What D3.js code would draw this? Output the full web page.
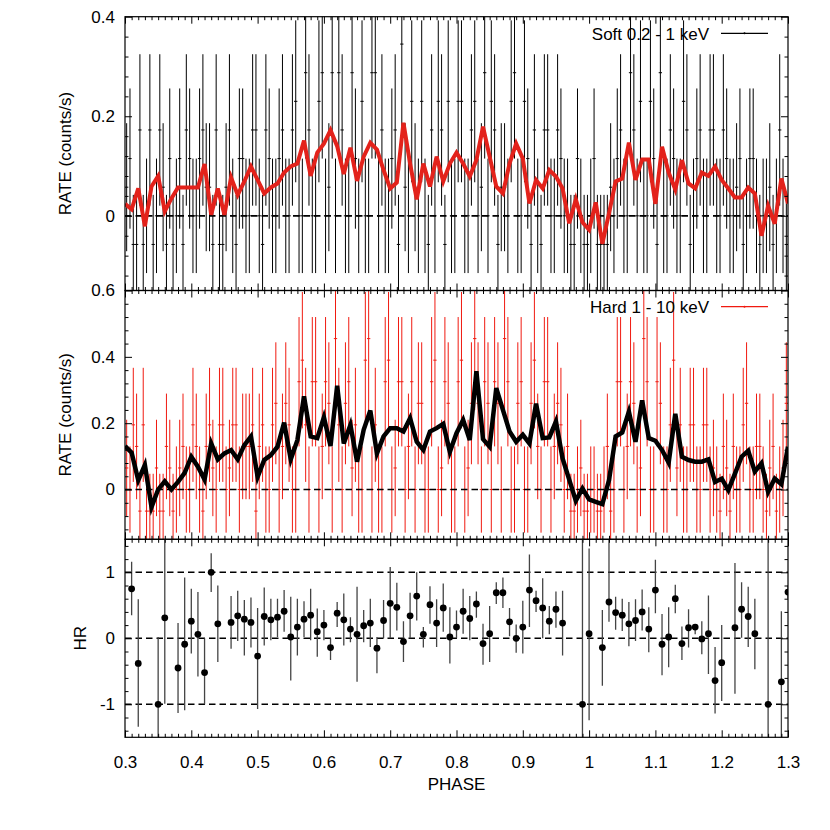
<!DOCTYPE html>
<html><head><meta charset="utf-8">
<script src="https://cdn.jsdelivr.net/npm/d3@7"></script>
<style>body{margin:0;background:#fff} text{font-family:"Liberation Sans",Arial,sans-serif;fill:#000}</style>
</head><body>
<svg id="c" width="830" height="830"></svg>
<script>
// ---------------- DATA ----------------
// phase grid of the binned curves (0.30 ... 1.30, step 0.01)
const linePhaseStart = 0.30, linePhaseStep = 0.01, lineCount = 101;
// binned soft rate (red curve, counts/s)
const softLine = [0.024,0.013,0.055,-0.021,0.059,0.080,0.009,0.035,0.057,0.057,
 0.057,0.057,0.104,0.002,0.055,0.002,0.077,0.042,0.069,0.099,
 0.072,0.045,0.057,0.065,0.087,0.099,0.105,0.151,0.080,0.127,
 0.145,0.172,0.140,0.084,0.137,0.070,0.119,0.147,0.133,0.092,
 0.055,0.067,0.187,0.105,0.033,0.105,0.059,0.119,0.069,0.105,
 0.127,0.105,0.079,0.112,0.179,0.119,0.059,0.045,0.105,0.145,
 0.115,0.025,0.072,0.055,0.092,0.079,0.055,-0.015,0.033,-0.013,
 -0.028,0.027,-0.056,0.005,0.069,0.075,0.147,0.072,0.113,0.113,
 0.024,0.139,0.087,0.053,0.112,0.065,0.055,0.087,0.080,0.099,
 0.072,0.055,0.037,0.037,0.057,0.045,-0.040,0.020,-0.016,0.075,0.025];
// binned hard rate (black curve, counts/s)
const hardLine = [0.131,0.111,0.028,0.074,-0.053,0.000,0.025,0.000,0.023,0.050,
 0.099,0.069,0.030,0.139,0.091,0.109,0.119,0.091,0.134,0.160,
 0.038,0.089,0.104,0.129,0.202,0.091,0.149,0.281,0.160,0.155,
 0.218,0.131,0.313,0.139,0.195,0.084,0.180,0.238,0.109,0.160,
 0.185,0.185,0.175,0.215,0.144,0.119,0.175,0.185,0.198,0.114,
 0.170,0.210,0.149,0.357,0.152,0.129,0.306,0.240,0.175,0.144,
 0.165,0.139,0.259,0.155,0.157,0.205,0.094,0.030,-0.034,0.003,
 -0.030,-0.037,-0.044,0.028,0.160,0.172,0.235,0.144,0.269,0.155,
 0.147,0.119,0.081,0.228,0.099,0.089,0.084,0.084,0.091,0.023,
 0.033,-0.002,0.048,0.099,0.117,0.054,0.079,-0.007,0.033,0.016,0.129];
// fine bins (two per curve point, half-width 0.0025): net counts per bin
const softCounts = [0,1, 2,-1, -1,3, -1,0, 3,-1, 0,3, 1,-1, 2,-1, 0,2, -1,3,
 2,0, 0,2, 3,1, 1,-1, 3,-1, -1,1, 3,0, -1,2, 2,0, 0,3,
 3,0, -1,3, 2,0, 0,2, 3,0, 0,3, 4,0, 0,5, 3,0, 0,4,
 5,0, 1,5, 0,5, 3,0, 0,5, 2,0, 4,0, 0,5, 5,0, 3,0,
 0,2, 3,-1, 6,1, 0,4, 1,0, 4,0, -1,3, 0,4, 3,-1, 4,0,
 0,4, 4,0, 0,3, 4,0, 1,5, 0,4, 3,-1, 1,1, 0,4, 5,0,
 0,4, 2,-1, 3,0, -1,3, 3,0, 0,3, 2,0, 0,-1, -1,2, 0,-1,
 -1,0, 2,-1, -1,-1, -1,1, 0,2, 3,0, 0,5, 3,0, 4,0, 0,4,
 2,-1, 5,0, 0,3, 2,0, 0,4, 3,-1, 0,2, 3,0, 0,3, 3,0,
 0,3, 2,0, 0,1, 2,-1, 0,2, 2,0, -1,0, 0,1, -1,0, 3,0, -1,2];
const hardCounts = [3,1, 0,3, 2,-1, 3,-1, -1,-1, 1,-1, -1,2, 1,-1, 0,1, 2,0,
 0,3, 2,0, -1,2, 3,1, 0,3, 3,0, 1,3, 3,0, 2,2, 2,3,
 -1,2, 3,0, 0,3, 4,0, 2,4, 3,0, 0,5, 6,3, 0,5, 5,0,
 2,5, 4,0, 7,3, 0,4, 5,1, 3,0, 0,6, 7,0, 3,0, 0,5,
 6,0, 1,5, 5,0, 2,5, 0,4, 4,0, 0,5, 6,0, 1,5, 4,0,
 0,5, 6,0, 1,4, 7,4, 0,5, 4,0, 5,4, 0,7, 5,0, 0,4,
 5,0, 0,4, 6,2, 0,5, 5,0, 2,4, 3,0, 2,-1, -1,0, 1,-1,
 -1,0, 0,-1, -1,0, 2,-1, 0,5, 5,0, 2,5, 4,0, 1,7, 5,0,
 0,5, 4,0, 0,3, 6,1, 3,0, 0,3, 3,0, 0,3, 3,0, 1,0,
 -1,2, 1,-1, 2,0, 0,3, 4,0, 0,2, 2,0, -1,1, 2,-1, 0,1, 4,0];
const softUnit = 0.0575, hardUnit = 0.065, bkgCounts = 4;
// hardness ratio
const hrPhase = [0.31,0.32,0.35,0.36,0.38,0.39,0.40,0.41,0.42,0.43,0.44,0.46,0.47,0.48,0.49,0.50,
 0.51,0.52,0.53,0.54,0.55,0.56,0.57,0.58,0.59,0.60,0.61,0.62,0.63,0.64,0.65,0.66,0.67,0.68,0.69,
 0.70,0.71,0.72,0.73,0.74,0.75,0.76,0.77,0.78,0.79,0.80,0.81,0.82,0.83,0.84,0.85,0.86,0.87,0.88,
 0.89,0.90,0.91,0.92,0.93,0.94,0.95,0.96,0.99,1.00,1.02,1.03,1.04,1.05,1.06,1.07,1.08,1.09,1.10,
 1.11,1.12,1.13,1.14,1.15,1.16,1.17,1.18,1.19,1.20,1.22,1.23,1.24,1.25,1.27,1.29,1.30];
const hrValue = [0.75,-0.38,-1.00,0.31,-0.45,-0.09,0.26,0.06,-0.52,1.00,0.22,0.24,0.34,0.29,0.24,-0.27,
 0.33,0.28,0.32,0.41,0.02,0.17,0.29,0.35,0.10,0.20,-0.14,0.38,0.28,0.14,0.06,0.19,0.23,-0.15,0.27,
 0.53,0.47,-0.05,0.34,0.64,0.06,0.51,0.23,0.46,0.02,0.17,0.41,0.30,0.52,-0.08,0.07,0.69,0.69,0.25,
 0.00,0.17,0.73,0.57,0.46,0.26,0.44,0.23,-1.00,0.07,-0.14,0.55,0.39,0.35,0.22,0.27,0.40,0.14,0.73,
 -0.09,0.02,0.60,-0.08,0.16,0.17,-0.01,0.07,-0.64,-0.37,0.16,0.44,0.33,0.07,-1.00,-0.66,0.70];
const hrLow = [0.35,-1.34,-1.60,-0.99,-1.13,-1.09,-0.23,-0.58,-1.00,0.70,-0.36,-0.16,-0.04,-0.26,-0.14,-1.07,
 -0.11,-0.03,0.02,0.10,-0.64,-0.26,0.02,-0.03,-0.28,-0.03,-0.33,0.17,-0.11,-0.06,-0.66,-0.06,-0.13,-0.53,0.00,
 0.00,0.12,-0.36,0.00,0.27,-0.14,0.22,-0.13,0.10,-0.38,0.00,0.07,-0.03,0.31,-0.40,-0.36,0.52,0.46,0.03,
 -0.22,-0.23,0.17,0.40,0.00,0.06,0.16,-0.26,-1.60,-1.24,-0.72,0.25,0.13,0.11,-0.12,-0.04,0.12,-0.21,0.38,
 -0.56,-0.44,0.38,-0.33,-0.14,0.06,-0.24,-0.54,-1.14,-0.95,-0.84,0.01,-0.13,-0.47,-1.60,-1.60,0.60];
const hrHigh = [1.16,0.59,0.02,1.60,0.23,0.92,0.75,0.70,0.00,1.29,0.80,0.64,0.72,0.58,0.62,0.46,
 0.77,0.60,0.60,0.73,0.63,0.60,0.56,0.75,0.45,0.43,0.00,0.55,0.68,0.32,0.78,0.43,0.60,0.02,0.58,
 1.08,0.84,0.26,0.69,1.00,0.17,0.79,0.59,0.83,0.47,0.42,0.75,0.64,0.71,0.22,0.49,0.85,0.92,0.46,
 0.21,0.57,1.27,0.72,0.91,0.49,0.71,0.72,1.60,1.36,0.43,1.60,0.63,0.60,0.55,0.59,0.74,0.47,1.19,
 0.37,0.47,0.81,0.18,0.44,0.21,0.26,0.65,-0.13,0.20,1.14,0.85,0.78,0.60,1.60,0.41,0.80];
// axis ticks
const xTicks = [0.3,0.4,0.5,0.6,0.7,0.8,0.9,1.0,1.1,1.2,1.3];
const xTickLabels = ["0.3","0.4","0.5","0.6","0.7","0.8","0.9","1","1.1","1.2","1.3"];
const topTicks = [0,0.2,0.4], topTickLabels = ["0","0.2","0.4"];
const midTicks = [0,0.2,0.4,0.6], midTickLabels = ["0","0.2","0.4","0.6"];
const botTicks = [-1,0,1], botTickLabels = ["-1","0","1"];
const softLegend = "Soft 0.2 - 1 keV", hardLegend = "Hard 1 - 10 keV";

// ---------------- LAYOUT ----------------
const svg = d3.select("#c");
const L = 125, R = 788;
const x = d3.scaleLinear([0.3, 1.3], [L, R]);
const panels = [
  {id:"top", y0:16.7, y1:290.5, dom:[-0.15,0.4], ticks:topTicks, labels:topTickLabels, minorStep:0.04, ylabel:"RATE (counts/s)", labX:71},
  {id:"mid", y0:290.5, y1:539.3, dom:[-0.15,0.6], ticks:midTicks, labels:midTickLabels, minorStep:0.04, ylabel:"RATE (counts/s)", labX:71},
  {id:"bot", y0:539.3, y1:737.3, dom:[-1.5,1.5], ticks:botTicks, labels:botTickLabels, minorStep:0.2, ylabel:"HR", labX:86}
];
panels.forEach(p => { p.y = d3.scaleLinear(p.dom, [p.y1, p.y0]); });
const defs = svg.append("defs");
panels.forEach(p => {
  defs.append("clipPath").attr("id","clip-"+p.id).append("rect")
    .attr("x",L).attr("y",p.y0).attr("width",R-L).attr("height",p.y1-p.y0);
});
const xMinor = d3.range(0, 101).map(i => 0.3 + i*0.01).filter(v => Math.abs(Math.round(v*10)-v*10) > 1e-6);
const linePhase = d3.range(lineCount).map(i => linePhaseStart + i*linePhaseStep);
const binPhase = [];
linePhase.forEach(p => { binPhase.push(p - 0.0025, p + 0.0025); });

function errorbars(g, p, counts, unit, color, width){
  const cg = g.append("g").attr("clip-path","url(#clip-"+p.id+")");
  counts.forEach((k, i) => {
    const v = k*unit, e = unit*Math.sqrt(k + bkgCounts), ph = binPhase[i];
    cg.append("line").attr("x1",x(ph)).attr("x2",x(ph)).attr("y1",p.y(v-e)).attr("y2",p.y(v+e))
      .attr("stroke",color).attr("stroke-width",width);
    cg.append("line").attr("x1",x(ph-0.0025)).attr("x2",x(ph+0.0025)).attr("y1",p.y(v)).attr("y2",p.y(v))
      .attr("stroke",color).attr("stroke-width",width);
  });
}
function dashed(g, p, val){
  g.append("g").attr("clip-path","url(#clip-"+p.id+")").append("line")
    .attr("x1",L).attr("x2",R).attr("y1",p.y(val)).attr("y2",p.y(val))
    .attr("stroke","#000").attr("stroke-width",1.6).attr("stroke-dasharray","6.5,4");
}
function curve(g, p, vals, color, width){
  const ln = d3.line().x((d,i) => x(linePhase[i])).y(d => p.y(d));
  g.append("g").attr("clip-path","url(#clip-"+p.id+")").append("path")
    .attr("d", ln(vals)).attr("fill","none").attr("stroke",color).attr("stroke-width",width)
    .attr("stroke-linejoin","miter").attr("stroke-miterlimit",4);
}

// ---------------- TOP PANEL ----------------
const gTop = svg.append("g");
errorbars(gTop, panels[0], softCounts, softUnit, "#000", 1);
dashed(gTop, panels[0], 0);
curve(gTop, panels[0], softLine, "#e3221b", 4);
gTop.append("text").attr("x",709).attr("y",39.5).attr("text-anchor","end").attr("font-size",17).text(softLegend);
gTop.append("line").attr("x1",721).attr("x2",768).attr("y1",33.3).attr("y2",33.3).attr("stroke","#000").attr("stroke-width",1.2);
gTop.append("circle").attr("cx",744.5).attr("cy",33.3).attr("r",1).attr("fill","#000");

// ---------------- MIDDLE PANEL ----------------
const gMid = svg.append("g");
errorbars(gMid, panels[1], hardCounts, hardUnit, "#f01a10", 1);
dashed(gMid, panels[1], 0);
curve(gMid, panels[1], hardLine, "#000", 4.5);
gMid.append("text").attr("x",709).attr("y",313).attr("text-anchor","end").attr("font-size",17).text(hardLegend);
gMid.append("line").attr("x1",721).attr("x2",768).attr("y1",306.7).attr("y2",306.7).attr("stroke","#f01a10").attr("stroke-width",1.2);
gMid.append("circle").attr("cx",744.5).attr("cy",306.7).attr("r",1).attr("fill","#f01a10");

// ---------------- BOTTOM PANEL ----------------
const gBot = svg.append("g");
const pb = panels[2];
[-1,0,1].forEach(v => dashed(gBot, pb, v));
const cb = gBot.append("g").attr("clip-path","url(#clip-bot)");
hrPhase.forEach((ph, i) => {
  cb.append("line").attr("x1",x(ph)).attr("x2",x(ph)).attr("y1",pb.y(hrLow[i])).attr("y2",pb.y(hrHigh[i]))
    .attr("stroke","#444").attr("stroke-width",1.3);
});
hrPhase.forEach((ph, i) => {
  cb.append("circle").attr("cx",x(ph)).attr("cy",pb.y(hrValue[i])).attr("r",3.4).attr("fill","#000");
});

// ---------------- AXES & FRAMES ----------------
panels.forEach((p, pi) => {
  const g = svg.append("g");
  g.append("g").attr("transform",`translate(${L},0)`)
    .call(d3.axisLeft(p.y).tickValues(p.ticks).tickSize(-7).tickPadding(10).tickFormat((d,i)=>p.labels[i]))
    .call(s => { s.select(".domain").remove(); s.selectAll("text").attr("font-size",17).attr("font-family","Liberation Sans, Arial, sans-serif").attr("fill","#000"); s.selectAll("line").attr("stroke","#000"); });
  const minors = d3.range(Math.ceil(p.dom[0]/p.minorStep - 1e-6), Math.floor(p.dom[1]/p.minorStep + 1e-6)+1)
    .map(i => +(i*p.minorStep).toFixed(4)).filter(v => !p.ticks.some(t => Math.abs(t-v) < 1e-6));
  g.append("g").attr("transform",`translate(${L},0)`)
    .call(d3.axisLeft(p.y).tickValues(minors).tickSize(-3.5).tickFormat(""))
    .call(s => { s.select(".domain").remove(); s.selectAll("line").attr("stroke","#000"); });
  g.append("g").attr("transform",`translate(${R},0)`)
    .call(d3.axisRight(p.y).tickValues(p.ticks).tickSize(-7).tickFormat(""))
    .call(s => { s.select(".domain").remove(); s.selectAll("line").attr("stroke","#000"); });
  g.append("g").attr("transform",`translate(${R},0)`)
    .call(d3.axisRight(p.y).tickValues(minors).tickSize(-3.5).tickFormat(""))
    .call(s => { s.select(".domain").remove(); s.selectAll("line").attr("stroke","#000"); });
  [[d3.axisTop, p.y0],[d3.axisBottom, p.y1]].forEach(([ax, yy], j) => {
    const showLabels = (pi === 2 && j === 1);
    g.append("g").attr("transform",`translate(0,${yy})`)
      .call(ax(x).tickValues(xTicks).tickSize(-7).tickPadding(showLabels ? 19 : 3).tickFormat((d,i)=> showLabels ? xTickLabels[i] : ""))
      .call(s => { s.select(".domain").remove(); s.selectAll("text").attr("font-size",17).attr("font-family","Liberation Sans, Arial, sans-serif").attr("fill","#000"); s.selectAll("line").attr("stroke","#000"); });
    g.append("g").attr("transform",`translate(0,${yy})`)
      .call(ax(x).tickValues(xMinor).tickSize(-3.5).tickFormat(""))
      .call(s => { s.select(".domain").remove(); s.selectAll("line").attr("stroke","#000"); });
  });
  g.append("rect").attr("x",L).attr("y",p.y0).attr("width",R-L).attr("height",p.y1-p.y0)
    .attr("fill","none").attr("stroke","#000").attr("stroke-width",1.2);
  svg.append("text").attr("transform",`translate(${p.labX},${(p.y0+p.y1)/2}) rotate(-90)`)
    .attr("text-anchor","middle").attr("font-size",17).text(p.ylabel);
});
svg.append("text").attr("x",(L+R)/2).attr("y",790).attr("text-anchor","middle").attr("font-size",17).text("PHASE");
</script>
</body></html>
